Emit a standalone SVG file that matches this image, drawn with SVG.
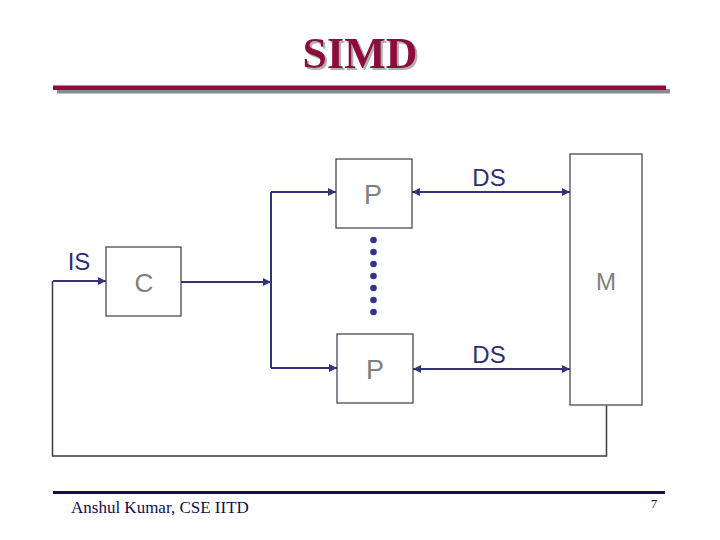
<svg xmlns="http://www.w3.org/2000/svg" width="720" height="540" viewBox="0 0 720 540">
<style>
.box{fill:#fff;stroke:#3a3a4a;stroke-width:1.2}
.lbl{font-family:"Liberation Sans",Arial,sans-serif;fill:#808080;text-anchor:middle}
.sig{font-family:"Liberation Sans",Arial,sans-serif;fill:#2e2e70;font-size:24px;text-anchor:middle}
.arr{fill:none;stroke:#33337a;stroke-width:2}
.wire{fill:none;stroke:#3a3a4a;stroke-width:1.5}
.dot{fill:#33338a}
</style>
<defs>
<marker id="ah" viewBox="0 0 10 10" refX="10" refY="5" markerWidth="4" markerHeight="4" orient="auto-start-reverse">
<path d="M0,0 L10,5 L0,10 z" fill="#33337a"/>
</marker>
<filter id="sh" x="-10%" y="-10%" width="130%" height="130%">
<feDropShadow dx="2" dy="2" stdDeviation="0.5" flood-color="#b0b0b0" flood-opacity="1"/>
</filter>
</defs>
<rect width="720" height="540" fill="#fff"/>
<g id="title">
<text x="360" y="68" font-family="Liberation Serif,'Times New Roman',serif" font-weight="bold" font-size="44" fill="#8c0c3c" text-anchor="middle" filter="url(#sh)">SIMD</text>
<rect x="57" y="89" width="613" height="4.5" fill="#8a8a8a"/>
<rect x="53" y="85.5" width="613" height="4.5" fill="#8c0c3c"/>
</g>
<g id="connectors">
<path class="arr" d="M53,281 H106" marker-end="url(#ah)"/>
<path class="arr" d="M181,282 H271" marker-end="url(#ah)"/>
<path class="arr" d="M271,192 V368"/>
<path class="arr" d="M271,192 H336" marker-end="url(#ah)"/>
<path class="arr" d="M271,368 H337" marker-end="url(#ah)"/>
<path class="arr" d="M412,192 H570" marker-start="url(#ah)" marker-end="url(#ah)"/>
<path class="arr" d="M413,369 H570" marker-start="url(#ah)" marker-end="url(#ah)"/>
<path class="wire" d="M606.5,405.5 V456 H52.5 V281"/>
</g>
<g id="IS"><text class="sig" x="79" y="270">IS</text></g>
<g id="C">
<rect class="box" x="106" y="247" width="75" height="69"/>
<text class="lbl" x="144" y="292" font-size="26">C</text>
</g>
<g id="P1">
<rect class="box" x="336" y="159" width="76" height="69"/>
<text class="lbl" x="373" y="204" font-size="27">P</text>
</g>
<g id="P2">
<rect class="box" x="337" y="334" width="76" height="69"/>
<text class="lbl" x="375" y="379" font-size="27">P</text>
</g>
<g id="dots">
<circle class="dot" cx="373.5" cy="240" r="3.3"/>
<circle class="dot" cx="373.5" cy="252" r="3.3"/>
<circle class="dot" cx="373.5" cy="264" r="3.3"/>
<circle class="dot" cx="373.5" cy="276" r="3.3"/>
<circle class="dot" cx="373.5" cy="288" r="3.3"/>
<circle class="dot" cx="373.5" cy="300" r="3.3"/>
<circle class="dot" cx="373.5" cy="312" r="3.3"/>
</g>
<g id="DS1"><text class="sig" x="489" y="186">DS</text></g>
<g id="DS2"><text class="sig" x="489" y="363">DS</text></g>
<g id="M">
<rect class="box" x="570" y="154" width="72" height="251"/>
<text class="lbl" x="606" y="290" font-size="24">M</text>
</g>
<g id="footer">
<rect x="53" y="491" width="612" height="3" fill="#10104a"/>
<text x="71" y="513" font-family="Liberation Serif,'Times New Roman',serif" font-size="17" fill="#10104a">Anshul Kumar, CSE IITD</text>
<text x="654" y="508" font-family="Liberation Serif,'Times New Roman',serif" font-size="13" fill="#10104a" text-anchor="middle">7</text>
</g>
</svg>
